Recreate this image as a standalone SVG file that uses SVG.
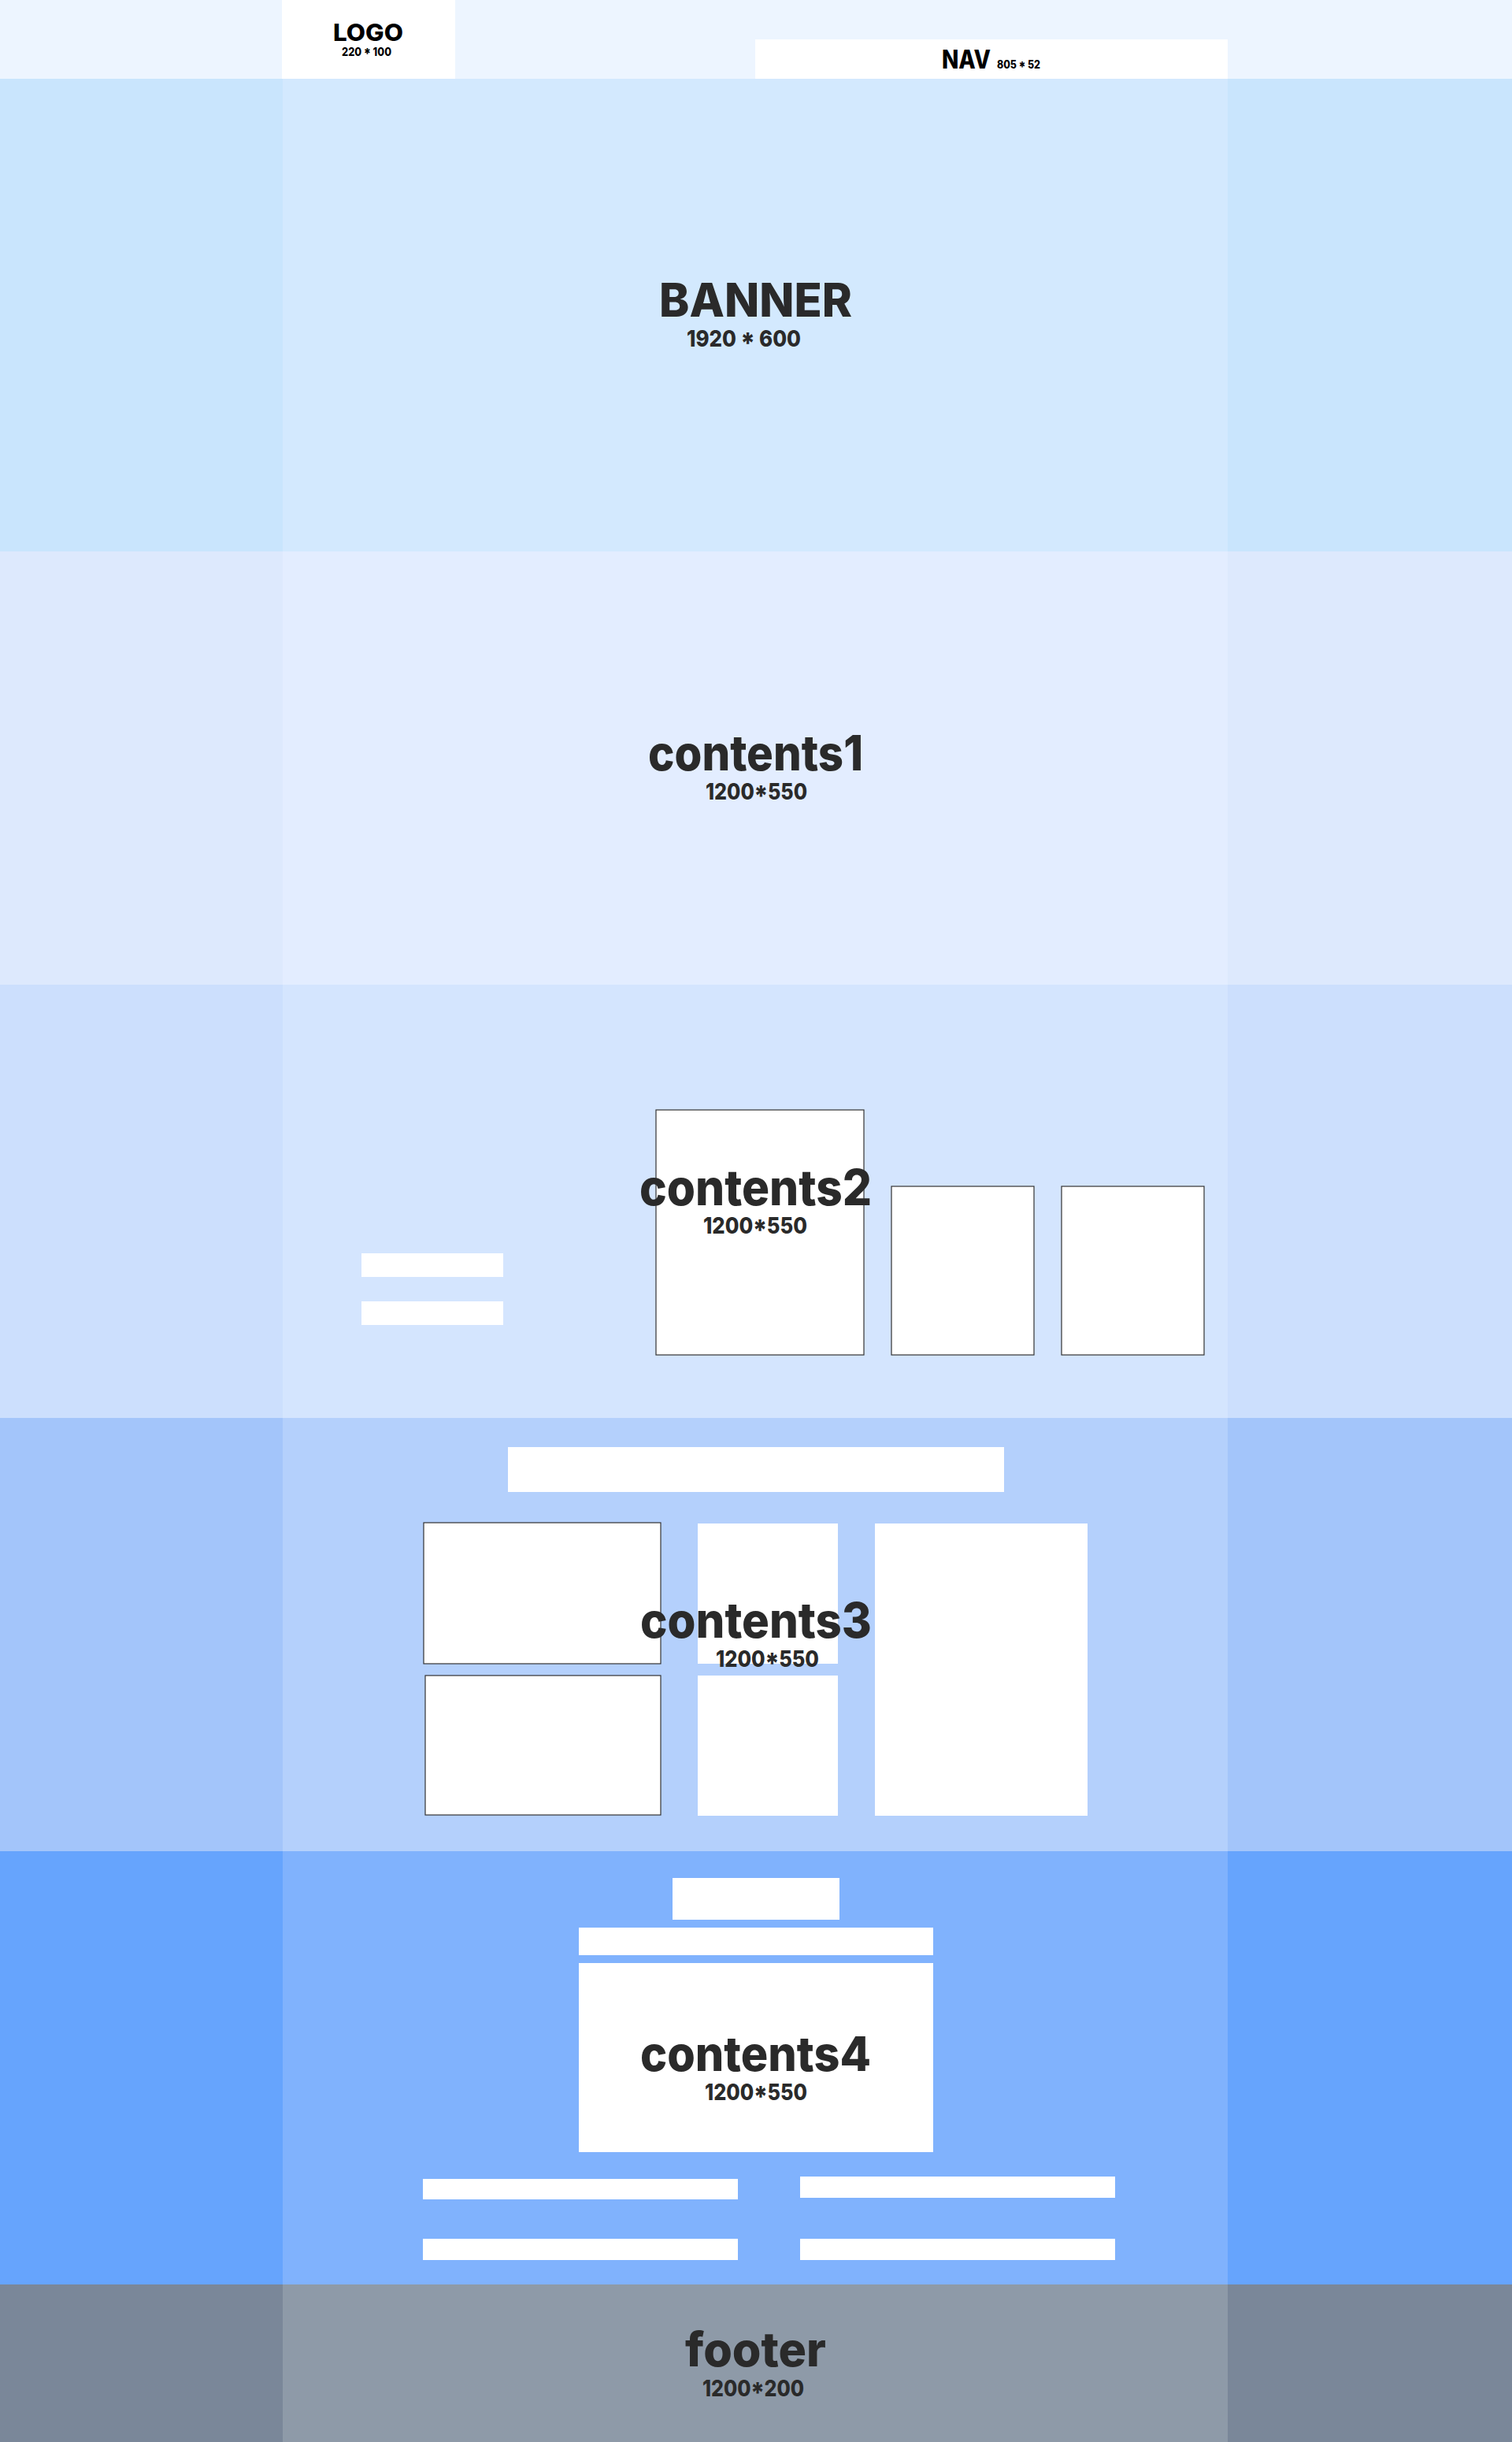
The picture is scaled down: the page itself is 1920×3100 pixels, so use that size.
<svg xmlns="http://www.w3.org/2000/svg" width="1920" height="3100" viewBox="0 0 1920 3100">
<style>
.t{font-family:Inter,"Liberation Sans",sans-serif;font-weight:800;fill:#2a2a2a}
.k{font-family:Inter,"Liberation Sans",sans-serif;font-weight:800;fill:#000}
.w{fill:#fff}
.s{fill:#fff;stroke:#333;stroke-width:1.2}
</style>
<g id="header">
<rect x="0" y="0" width="1920" height="100" fill="#edf5ff"/>
</g>
<g id="logo">
<rect x="358" y="0" width="220" height="100" class="w"/>
<text x="423" y="52" font-size="30" class="k" textLength="89" lengthAdjust="spacingAndGlyphs">LOGO</text>
<text x="434" y="71" font-size="15" class="k" textLength="63" lengthAdjust="spacingAndGlyphs">220 * 100</text>
</g>
<g id="nav">
<rect x="959" y="50" width="600" height="50" class="w"/>
<text x="1196" y="87" font-size="33" class="k" textLength="62" lengthAdjust="spacingAndGlyphs">NAV</text>
<text x="1266" y="87" font-size="14.5" class="k" textLength="55" lengthAdjust="spacingAndGlyphs">805 * 52</text>
</g>
<g id="banner">
<rect x="0" y="100" width="1920" height="600" fill="#c9e5fd"/>
<rect x="359" y="100" width="1200" height="600" fill="#d3e9fe"/>
<text x="837" y="402" font-size="59" class="t" textLength="245" lengthAdjust="spacingAndGlyphs">BANNER</text>
<text x="872" y="440" font-size="29" class="t" textLength="145" lengthAdjust="spacingAndGlyphs">1920 * 600</text>
</g>
<g id="contents1">
<rect x="0" y="700" width="1920" height="550" fill="#dde9fd"/>
<rect x="359" y="700" width="1200" height="550" fill="#e3edff"/>
<text x="823" y="978" font-size="62" class="t" textLength="273" lengthAdjust="spacingAndGlyphs">contents1</text>
<text x="896" y="1015" font-size="28" class="t" textLength="129" lengthAdjust="spacingAndGlyphs">1200*550</text>
</g>
<g id="contents2">
<rect x="0" y="1250" width="1920" height="550" fill="#ccdffd"/>
<rect x="359" y="1250" width="1200" height="550" fill="#d4e5fe"/>
<rect x="459" y="1591" width="180" height="30" class="w"/>
<rect x="459" y="1652" width="180" height="30" class="w"/>
<rect x="833" y="1409" width="264" height="311" class="s"/>
<rect x="1132" y="1506" width="181" height="214" class="s"/>
<rect x="1348" y="1506" width="181" height="214" class="s"/>
<text x="812" y="1530" font-size="63" class="t" textLength="295" lengthAdjust="spacingAndGlyphs">contents2</text>
<text x="893" y="1566" font-size="29" class="t" textLength="132" lengthAdjust="spacingAndGlyphs">1200*550</text>
</g>
<g id="contents3">
<rect x="0" y="1800" width="1920" height="550" fill="#a3c5fa"/>
<rect x="359" y="1800" width="1200" height="550" fill="#b4d0fc"/>
<rect x="645" y="1837" width="630" height="57" class="w"/>
<rect x="538" y="1933" width="301" height="179" class="s"/>
<rect x="540" y="2127" width="299" height="177" class="s"/>
<rect x="886" y="1934" width="178" height="178" class="w"/>
<rect x="886" y="2127" width="178" height="178" class="w"/>
<rect x="1111" y="1934" width="270" height="371" class="w"/>
<text x="813" y="2079" font-size="62" class="t" textLength="294" lengthAdjust="spacingAndGlyphs">contents3</text>
<text x="909" y="2116" font-size="29" class="t" textLength="131" lengthAdjust="spacingAndGlyphs">1200*550</text>
</g>
<g id="contents4">
<rect x="0" y="2350" width="1920" height="550" fill="#66a4fd"/>
<rect x="359" y="2350" width="1200" height="550" fill="#80b2fd"/>
<rect x="854" y="2384" width="212" height="53" class="w"/>
<rect x="735" y="2447" width="450" height="35" class="w"/>
<rect x="735" y="2492" width="450" height="240" class="w"/>
<rect x="537" y="2766" width="400" height="26" class="w"/>
<rect x="1016" y="2763" width="400" height="27" class="w"/>
<rect x="537" y="2842" width="400" height="27" class="w"/>
<rect x="1016" y="2842" width="400" height="27" class="w"/>
<text x="813" y="2629" font-size="61" class="t" textLength="293" lengthAdjust="spacingAndGlyphs">contents4</text>
<text x="895" y="2666" font-size="29" class="t" textLength="130" lengthAdjust="spacingAndGlyphs">1200*550</text>
</g>
<g id="footer">
<rect x="0" y="2900" width="1920" height="200" fill="#7a8799"/>
<rect x="359" y="2900" width="1200" height="200" fill="#8e9aa8"/>
<text x="870" y="3004" font-size="60" class="t" textLength="179" lengthAdjust="spacingAndGlyphs">footer</text>
<text x="892" y="3042" font-size="28" class="t" textLength="129" lengthAdjust="spacingAndGlyphs">1200*200</text>
</g>
<g id="connectors"/>
</svg>
